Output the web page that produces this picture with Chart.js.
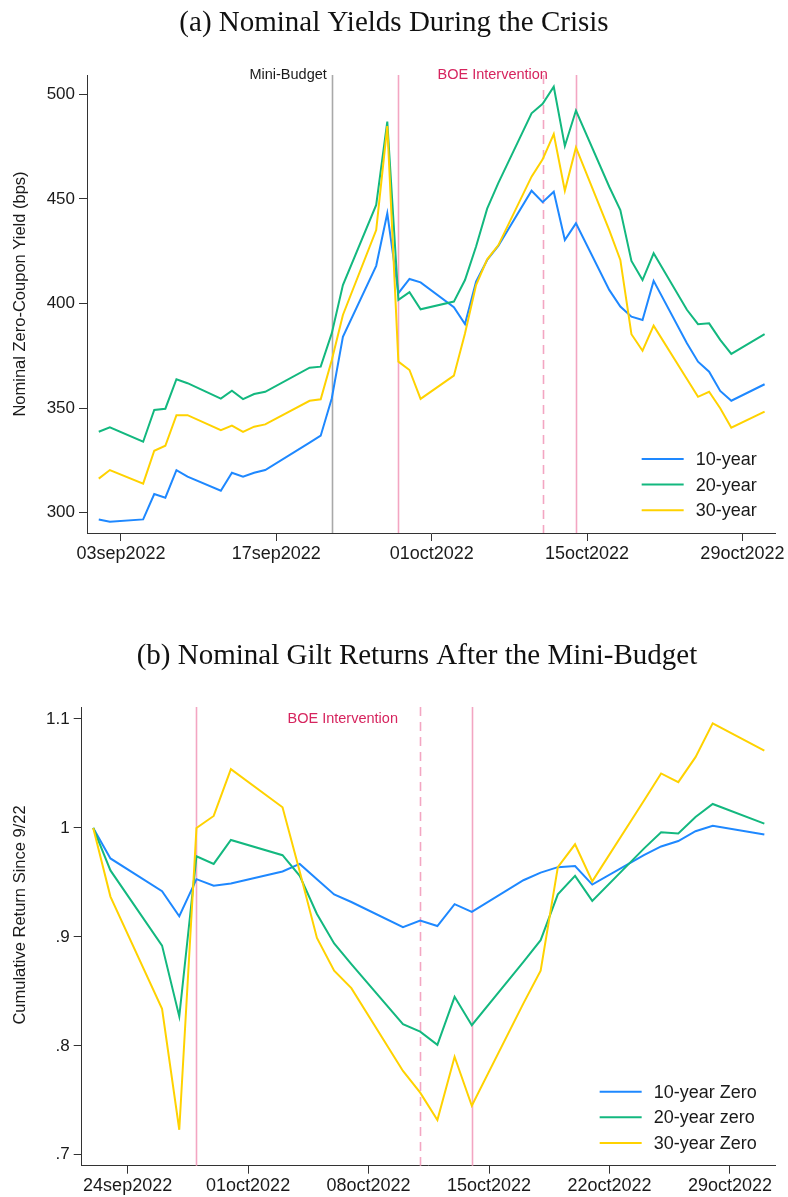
<!DOCTYPE html>
<html>
<head>
<meta charset="utf-8">
<script src="https://cdn.jsdelivr.net/npm/chart.js@4/dist/chart.umd.min.js"></script>
<style>
  html, body { margin: 0; padding: 0; background: #fff; }
  #wrap { position: relative; width: 788px; height: 1197px; }
  .panel { position: absolute; left: 0; width: 788px; }
  #panel-a { top: 0; height: 600px; }
  #panel-b { top: 600px; height: 597px; }
</style>
</head>
<body>
<div id="wrap">
  <div class="panel" id="panel-a"><canvas id="chart-a"></canvas></div>
  <div class="panel" id="panel-b"><canvas id="chart-b"></canvas></div>
</div>
<script>
// (a) nominal zero-coupon yields, bps
const yieldDates = [
  '2022-09-01', '2022-09-02', '2022-09-05', '2022-09-06', '2022-09-07', '2022-09-08', '2022-09-09',
  '2022-09-12', '2022-09-13', '2022-09-14', '2022-09-15', '2022-09-16', '2022-09-20', '2022-09-21',
  '2022-09-22', '2022-09-23', '2022-09-26', '2022-09-27', '2022-09-28', '2022-09-29', '2022-09-30',
  '2022-10-03', '2022-10-04', '2022-10-05', '2022-10-06', '2022-10-07', '2022-10-10', '2022-10-11',
  '2022-10-12', '2022-10-13', '2022-10-14', '2022-10-17', '2022-10-18', '2022-10-19', '2022-10-20',
  '2022-10-21', '2022-10-24', '2022-10-25', '2022-10-26', '2022-10-27', '2022-10-28', '2022-10-31'
]
const yield10 = [
  296.8, 295.7, 296.8, 308.9, 307.2, 320.3, 317.2, 310.5, 319.1, 317.2, 319.1, 320.4, 333.5, 336.8,
  354.7, 384.1, 418.0, 443.1, 404.9, 411.7, 410.1, 398.2, 390.2, 410.4, 420.8, 427.5, 453.9, 448.4,
  453.4, 430.3, 438.3, 406.5, 398.5, 393.7, 392.1, 410.8, 381.0, 372.2, 367.4, 358.2, 353.5, 361.4
]
const yield20 = [
  338.7, 340.8, 333.9, 349.1, 349.7, 363.8, 361.9, 354.5, 358.3, 354.3, 356.7, 357.8, 369.3, 369.8,
  385.8, 408.8, 447.1, 486.9, 401.7, 405.4, 397.2, 400.9, 411.2, 427.2, 445.3, 457.5, 490.9, 495.4,
  503.6, 475.3, 492.2, 455.8, 444.7, 420.3, 411.2, 424.0, 397.0, 390.1, 390.5, 382.6, 375.9, 385.3
]
const yield30 = [
  316.3, 320.4, 313.9, 329.6, 332.0, 346.6, 346.6, 339.4, 341.6, 338.6, 341.1, 342.2, 353.5, 354.2,
  373.0, 394.5, 435.1, 484.8, 372.2, 368.2, 354.4, 365.5, 385.7, 408.8, 421.1, 427.8, 460.6, 468.9,
  481.0, 453.9, 474.6, 435.1, 420.8, 385.3, 377.4, 389.4, 363.9, 355.4, 357.8, 349.9, 340.6, 348.3
]
const yieldLabels = ['10-year', '20-year', '30-year']
const yieldXTicks = ['2022-09-03', '2022-09-17', '2022-10-01', '2022-10-15', '2022-10-29']
const yieldYTicks = [300, 350, 400, 450, 500]

// (b) cumulative gilt returns since 9/22
const returnDates = [
  '2022-09-22', '2022-09-23', '2022-09-26', '2022-09-27', '2022-09-28', '2022-09-29', '2022-09-30',
  '2022-10-03', '2022-10-04', '2022-10-05', '2022-10-06', '2022-10-07', '2022-10-10', '2022-10-11',
  '2022-10-12', '2022-10-13', '2022-10-14', '2022-10-17', '2022-10-18', '2022-10-19', '2022-10-20',
  '2022-10-21', '2022-10-24', '2022-10-25', '2022-10-26', '2022-10-27', '2022-10-28', '2022-10-31'
]
const return10 = [
  1.000, 0.972, 0.942, 0.919, 0.953, 0.947, 0.949, 0.960, 0.967, 0.953, 0.939, 0.932, 0.909, 0.915,
  0.910, 0.930, 0.923, 0.952, 0.959, 0.964, 0.965, 0.948, 0.975, 0.983, 0.988, 0.997, 1.002, 0.994
]
const return20 = [
  1.000, 0.961, 0.892, 0.827, 0.974, 0.967, 0.989, 0.975, 0.956, 0.921, 0.894, 0.875, 0.820, 0.813,
  0.801, 0.845, 0.819, 0.877, 0.897, 0.939, 0.956, 0.933, 0.981, 0.996, 0.995, 1.010, 1.022, 1.004
]
const return30 = [
  1.000, 0.937, 0.834, 0.723, 1.000, 1.011, 1.054, 1.019, 0.960, 0.899, 0.869, 0.853, 0.777, 0.757,
  0.732, 0.790, 0.745, 0.839, 0.869, 0.964, 0.985, 0.951, 1.025, 1.050, 1.042, 1.065, 1.096, 1.071
]
const returnLabels = ['10-year Zero', '20-year zero', '30-year Zero']
const returnXTicks = ['2022-09-24', '2022-10-01', '2022-10-08', '2022-10-15', '2022-10-22', '2022-10-29']
const returnYTicks = [0.7, 0.8, 0.9, 1, 1.1]

// events marked with vertical lines
const budgetDate = '2022-09-22'
const boeDates = ['2022-09-28', '2022-10-11', '2022-10-14']
const boeDashed = [false, true, false]
const boeLabelDate = '2022-10-06T12:00'

const SANS = '"Liberation Sans", Arial, Helvetica, sans-serif'
const SERIF = '"Liberation Serif", "Times New Roman", serif'
const seriesColors = ['#1e88ff', '#13b87f', '#ffd200']
const pink = '#f3a6c2'
const crimson = '#d6245e'
const ink = '#1a1a1a'

const DAY0 = Date.parse('2022-09-01T00:00:00Z')
const day = (s) => (Date.parse((s.length > 10 ? s : s + 'T00:00') + ':00Z') - DAY0) / 864e5

const MONTHS = ['jan', 'feb', 'mar', 'apr', 'may', 'jun', 'jul', 'aug', 'sep', 'oct', 'nov', 'dec']
const stataDate = (v) => {
  const d = new Date(DAY0 + v * 864e5)
  return String(d.getUTCDate()).padStart(2, '0') + MONTHS[d.getUTCMonth()] + d.getUTCFullYear()
}
const stataNum = (v) => (Number.isInteger(v) ? String(v) : String(+v.toFixed(2)).replace(/^0\./, '.'))

const series = (dates, values) => dates.map((d, i) => ({ x: day(d), y: values[i] }))

const overlay = {
  id: 'overlay',
  beforeDatasetsDraw(chart, args, o) {
    const { ctx, chartArea: a, scales: { x } } = chart
    const vline = (date, color, dashed) => {
      const px = Math.round(x.getPixelForValue(day(date))) + 0.5
      ctx.save()
      ctx.strokeStyle = color
      ctx.lineWidth = 1.6
      ctx.setLineDash(dashed ? [9, 6] : [])
      ctx.beginPath()
      ctx.moveTo(px, a.top)
      ctx.lineTo(px, a.bottom)
      ctx.stroke()
      ctx.restore()
    }
    if (o.budget) vline(budgetDate, '#a9a9a9', false)
    boeDates.forEach((d, i) => vline(d, pink, boeDashed[i]))
  },
  afterDatasetsDraw(chart, args, o) {
    const { ctx, chartArea: a, scales: { x, y } } = chart
    ctx.save()
    ctx.font = '14.5px ' + SANS
    ctx.textBaseline = 'middle'
    const ly = y.getPixelForValue(o.labelY)
    if (o.budget) {
      ctx.fillStyle = ink
      ctx.textAlign = 'right'
      ctx.fillText('Mini-Budget', x.getPixelForValue(day(budgetDate)) - 5, ly)
    }
    ctx.fillStyle = crimson
    ctx.textAlign = 'center'
    ctx.fillText('BOE Intervention', x.getPixelForValue(day(boeLabelDate)), ly)

    // legend, bottom right inside the plot
    ctx.font = '18px ' + SANS
    ctx.textAlign = 'left'
    const ds = chart.data.datasets
    const maxW = Math.max(...ds.map(d => ctx.measureText(d.label).width))
    const tx = a.right - 19 - maxW
    ds.forEach((d, i) => {
      const ry = a.bottom - 74 + i * 25.6
      ctx.strokeStyle = d.borderColor
      ctx.lineWidth = 2
      ctx.beginPath()
      ctx.moveTo(tx - 54, ry)
      ctx.lineTo(tx - 12, ry)
      ctx.stroke()
      ctx.fillStyle = ink
      ctx.fillText(d.label, tx, ry + 1)
    })
    ctx.restore()
  },
  afterDraw(chart, args, o) {
    const { ctx } = chart
    ctx.save()
    ctx.fillStyle = '#111'
    ctx.textAlign = 'center'
    ctx.textBaseline = 'middle'
    ctx.font = '29px ' + SERIF
    ctx.fillText(o.title, o.titleX, o.titleY)
    ctx.translate(20, o.yTitleY)
    ctx.rotate(-Math.PI / 2)
    ctx.font = '16.5px ' + SANS
    ctx.fillStyle = ink
    ctx.fillText(o.yTitle, 0, 0)
    ctx.restore()
  }
}

const makeChart = (id, cfg) => new Chart(document.getElementById(id), {
  type: 'line',
  data: {
    datasets: cfg.values.map((v, i) => ({
      label: cfg.labels[i],
      data: series(cfg.dates, v),
      borderColor: seriesColors[i],
      backgroundColor: seriesColors[i],
      borderWidth: 2,
      pointRadius: 0,
      tension: 0,
      order: 3 - i
    }))
  },
  options: {
    responsive: true,
    maintainAspectRatio: false,
    animation: false,
    events: [],
    layout: { padding: { top: cfg.top, right: 12.3, left: 0, bottom: 0 } },
    plugins: {
      legend: { display: false },
      tooltip: { enabled: false },
      overlay: cfg.overlay
    },
    scales: {
      x: {
        type: 'linear',
        min: cfg.xMin,
        max: cfg.xMax,
        afterBuildTicks: (s) => { s.ticks = cfg.xTicks.map(d => ({ value: day(d) })) },
        afterFit: (s) => { s.height = cfg.xHeight },
        ticks: { callback: stataDate, font: { family: SANS, size: 18 }, color: ink, padding: 2, maxRotation: 0, autoSkip: false },
        grid: { drawOnChartArea: false, drawTicks: true, tickLength: 8, color: '#333' },
        border: { display: true, color: '#333', width: 1 }
      },
      y: {
        type: 'linear',
        min: cfg.yMin,
        max: cfg.yMax,
        afterBuildTicks: (s) => { s.ticks = cfg.yTicks.map(v => ({ value: v })) },
        afterFit: (s) => { s.width = cfg.left },
        ticks: { callback: stataNum, font: { family: SANS, size: 17 }, color: ink, padding: 4 },
        grid: { drawOnChartArea: false, drawTicks: true, tickLength: 8, color: '#333' },
        border: { display: true, color: '#333', width: 1 }
      }
    }
  },
  plugins: [overlay]
})

makeChart('chart-a', {
  dates: yieldDates,
  values: [yield10, yield20, yield30],
  labels: yieldLabels,
  xTicks: yieldXTicks,
  yTicks: yieldYTicks,
  xMin: -1.06, xMax: 61.0,
  yMin: 290.3, yMax: 509.2,
  top: 75, left: 87, xHeight: 67,
  overlay: {
    budget: true, labelY: 509.2,
    title: '(a) Nominal Yields During the Crisis', titleX: 394, titleY: 23,
    yTitle: 'Nominal Zero-Coupon Yield (bps)', yTitleY: 294
  }
})

makeChart('chart-b', {
  dates: returnDates,
  values: [return10, return20, return30],
  labels: returnLabels,
  xTicks: returnXTicks,
  yTicks: returnYTicks,
  xMin: 20.33, xMax: 60.66,
  yMin: 0.690, yMax: 1.111,
  top: 107, left: 81.7, xHeight: 31.3,
  overlay: {
    budget: false, labelY: 1.1,
    title: '(b) Nominal Gilt Returns After the Mini-Budget', titleX: 417, titleY: 56,
    yTitle: 'Cumulative Return Since 9/22', yTitleY: 315
  }
})
</script>
</body>
</html>
